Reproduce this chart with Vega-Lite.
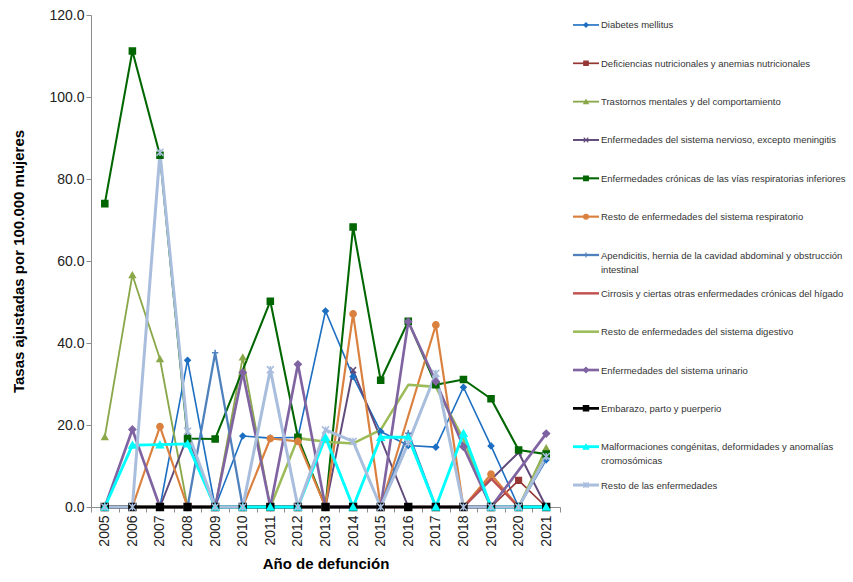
{
  "$schema": "https://vega.github.io/schema/vega-lite/v6.json",
  "background": "white",
  "padding": {"left": 11, "top": 8, "right": 0, "bottom": 0},
  "spacing": 10,
  "resolve": {"scale": {"size": "independent"}},
  "datasets": {
    "tasas": [
      {"anio": "2005", "a_dm": 0, "b_dn": 0, "c_tm": 17.1, "d_sn": 0, "e_cr": 74.0, "f_rr": 0, "g_ap": 0, "h_ci": 0, "i_rd": 0, "j_su": 0, "k_em": 0, "l_mc": 0, "m_re": 0},
      {"anio": "2006", "a_dm": 0, "b_dn": 0, "c_tm": 56.6, "d_sn": 0, "e_cr": 111.2, "f_rr": 0, "g_ap": 0, "h_ci": 0, "i_rd": 0, "j_su": 18.9, "k_em": 0, "l_mc": 15.1, "m_re": 0},
      {"anio": "2007", "a_dm": 0, "b_dn": 0, "c_tm": 36.1, "d_sn": 0, "e_cr": 85.8, "f_rr": 19.6, "g_ap": 0, "h_ci": 0, "i_rd": 0, "j_su": 0, "k_em": 0, "l_mc": 15.2, "m_re": 86.5},
      {"anio": "2008", "a_dm": 35.8, "b_dn": 0, "c_tm": 0, "d_sn": 17.2, "e_cr": 16.7, "f_rr": 0, "g_ap": 0, "h_ci": 0, "i_rd": 0, "j_su": 0, "k_em": 0, "l_mc": 15.4, "m_re": 18.5},
      {"anio": "2009", "a_dm": 0, "b_dn": 0, "c_tm": 0, "d_sn": 0, "e_cr": 16.6, "f_rr": 0, "g_ap": 37.6, "h_ci": 0, "i_rd": 0, "j_su": 0, "k_em": 0, "l_mc": 0, "m_re": 0},
      {"anio": "2010", "a_dm": 17.3, "b_dn": 0, "c_tm": 36.5, "d_sn": 0, "e_cr": null, "f_rr": 0, "g_ap": 0, "h_ci": 0, "i_rd": 0, "j_su": 32.8, "k_em": 0, "l_mc": 0, "m_re": 0},
      {"anio": "2011", "a_dm": 16.8, "b_dn": 0, "c_tm": 0, "d_sn": 0, "e_cr": 50.2, "f_rr": 16.7, "g_ap": 0, "h_ci": 0, "i_rd": 0, "j_su": 0, "k_em": 0, "l_mc": 0, "m_re": 33.5},
      {"anio": "2012", "a_dm": 17.0, "b_dn": 0, "c_tm": 0, "d_sn": 0, "e_cr": 17.0, "f_rr": 16.0, "g_ap": 0, "h_ci": 0, "i_rd": 16.8, "j_su": 34.8, "k_em": 0, "l_mc": 0, "m_re": 0},
      {"anio": "2013", "a_dm": 47.8, "b_dn": 0, "c_tm": 0, "d_sn": 0, "e_cr": 0, "f_rr": 0, "g_ap": 0, "h_ci": 0, "i_rd": 15.9, "j_su": 0, "k_em": 0, "l_mc": 17.0, "m_re": 18.8},
      {"anio": "2014", "a_dm": 31.8, "b_dn": 0, "c_tm": 0, "d_sn": 33.4, "e_cr": 68.3, "f_rr": 47.1, "g_ap": 0, "h_ci": 0, "i_rd": 15.5, "j_su": 0, "k_em": 0, "l_mc": 0, "m_re": 16.0},
      {"anio": "2015", "a_dm": 18.4, "b_dn": 0, "c_tm": 0, "d_sn": null, "e_cr": 30.9, "f_rr": 0, "g_ap": 0, "h_ci": 0, "i_rd": 18.8, "j_su": 0, "k_em": 0, "l_mc": 17.0, "m_re": 0},
      {"anio": "2016", "a_dm": 15.0, "b_dn": 0, "c_tm": 0, "d_sn": 0, "e_cr": 45.3, "f_rr": null, "g_ap": 18.0, "h_ci": 0, "i_rd": 29.8, "j_su": 45.2, "k_em": 0, "l_mc": 17.0, "m_re": 15.6},
      {"anio": "2017", "a_dm": 14.6, "b_dn": 0, "c_tm": 0, "d_sn": 0, "e_cr": 29.8, "f_rr": 44.4, "g_ap": 0, "h_ci": 0, "i_rd": 29.3, "j_su": 30.6, "k_em": 0, "l_mc": 0, "m_re": 32.6},
      {"anio": "2018", "a_dm": 29.2, "b_dn": 0, "c_tm": 0, "d_sn": 0, "e_cr": 31.1, "f_rr": 0, "g_ap": 0, "h_ci": 0, "i_rd": 16.5, "j_su": 14.7, "k_em": 0, "l_mc": 18.0, "m_re": 0},
      {"anio": "2019", "a_dm": 14.9, "b_dn": 0, "c_tm": 0, "d_sn": null, "e_cr": 26.4, "f_rr": 8.0, "g_ap": 0, "h_ci": 7.0, "i_rd": 0, "j_su": 0, "k_em": 0, "l_mc": 0, "m_re": 0},
      {"anio": "2020", "a_dm": 0, "b_dn": 6.5, "c_tm": 0, "d_sn": 13.3, "e_cr": 13.9, "f_rr": 0, "g_ap": 0, "h_ci": 0, "i_rd": 0, "j_su": null, "k_em": 0, "l_mc": 0, "m_re": 0},
      {"anio": "2021", "a_dm": 11.5, "b_dn": 0, "c_tm": 14.4, "d_sn": 0, "e_cr": 12.9, "f_rr": 0, "g_ap": 12.0, "h_ci": 0, "i_rd": 13.5, "j_su": 17.9, "k_em": 0, "l_mc": 0, "m_re": 12.3}
    ],
    "leyenda": [
      {"k": "a_dm", "label": "Diabetes mellitus"},
      {"k": "b_dn", "label": "Deficiencias nutricionales y anemias nutricionales"},
      {"k": "c_tm", "label": "Trastornos mentales y del comportamiento"},
      {"k": "d_sn", "label": "Enfermedades del sistema nervioso, excepto meningitis"},
      {"k": "e_cr", "label": "Enfermedades crónicas de las vías respiratorias inferiores"},
      {"k": "f_rr", "label": "Resto de enfermedades del sistema respiratorio"},
      {"k": "g_ap", "label": "Apendicitis, hernia de la cavidad abdominal y obstrucción\nintestinal"},
      {"k": "h_ci", "label": "Cirrosis y ciertas otras enfermedades crónicas del hígado"},
      {"k": "i_rd", "label": "Resto de enfermedades del sistema digestivo"},
      {"k": "j_su", "label": "Enfermedades del sistema urinario"},
      {"k": "k_em", "label": "Embarazo, parto y puerperio"},
      {"k": "l_mc", "label": "Malformaciones congénitas, deformidades y anomalías\ncromosómicas"},
      {"k": "m_re", "label": "Resto de las enfermedades"}
    ]
  },
  "hconcat": [
    {
      "width": 469,
      "height": 492,
      "data": {"name": "tasas"},
      "transform": [
        {"fold": ["a_dm", "b_dn", "c_tm", "d_sn", "e_cr", "f_rr", "g_ap", "h_ci", "i_rd", "j_su", "k_em", "l_mc", "m_re"], "as": ["k", "tasa"]},
        {"filter": {"field": "tasa", "valid": true}}
      ],
      "encoding": {
        "x": {
          "field": "anio", "type": "ordinal", "bandPosition": 0.5,
          "scale": {"type": "band", "paddingInner": 0, "paddingOuter": 0},
          "axis": {
            "title": "Año de defunción", "titleFontSize": 15, "titleFontWeight": "bold", "titlePadding": 10,
            "labelAngle": 270, "labelFontSize": 14, "labelPadding": 3, "tickBand": "extent", "tickSize": 5,
            "domainColor": "#8c8c8c", "tickColor": "#8c8c8c", "grid": false
          }
        },
        "y": {
          "field": "tasa", "type": "quantitative",
          "scale": {"domain": [0, 120], "nice": false},
          "axis": {
            "title": "Tasas ajustadas por 100.000 mujeres", "titleFontSize": 15, "titleFontWeight": "bold", "titlePadding": 22,
            "values": [0, 20, 40, 60, 80, 100, 120], "format": ".1f", "labelFontSize": 14, "labelPadding": 2,
            "tickSize": 5, "domainColor": "#8c8c8c", "tickColor": "#8c8c8c", "grid": false
          }
        }
      },
      "layer": [
        {
          "mark": {"type": "line", "strokeJoin": "round"},
          "encoding": {
            "color": {"field": "k", "type": "nominal", "legend": null,
              "scale": {"domain": ["a_dm", "b_dn", "c_tm", "d_sn", "e_cr", "f_rr", "g_ap", "h_ci", "i_rd", "j_su", "k_em", "l_mc", "m_re"],
                "range": ["#1C6FC2", "#953735", "#8AA84A", "#604A7B", "#006600", "#DA8140", "#4F81BD", "#C0504D", "#9BBB59", "#8064A2", "#000000", "#00FFFF", "#A9BDDD"]}},
            "strokeWidth": {"field": "k", "type": "nominal", "legend": null,
              "scale": {"domain": ["a_dm", "b_dn", "c_tm", "d_sn", "e_cr", "f_rr", "g_ap", "h_ci", "i_rd", "j_su", "k_em", "l_mc", "m_re"],
                "range": [1.6, 3, 3, 3, 3.5, 3, 3, 3, 3, 3, 2.5, 3, 3.5]}}
          }
        },
        {
          "transform": [{"filter": {"not": {"field": "k", "oneOf": ["h_ci", "i_rd"]}}}],
          "mark": {"type": "point", "filled": true, "opacity": 1, "strokeWidth": 1.5},
          "encoding": {
            "color": {"field": "k", "type": "nominal", "legend": null},
            "stroke": {"field": "k", "type": "nominal", "legend": null,
              "scale": {"domain": ["a_dm", "b_dn", "c_tm", "d_sn", "e_cr", "f_rr", "g_ap", "h_ci", "i_rd", "j_su", "k_em", "l_mc", "m_re"],
                "range": ["#1C6FC2", "#953735", "#8AA84A", "#604A7B", "#006600", "#DA8140", "#4F81BD", "#C0504D", "#9BBB59", "#8064A2", "#000000", "#00FFFF", "#A9BDDD"]}},
            "shape": {"field": "k", "type": "nominal", "legend": null,
              "scale": {"domain": ["a_dm", "b_dn", "c_tm", "d_sn", "e_cr", "f_rr", "g_ap", "h_ci", "i_rd", "j_su", "k_em", "l_mc", "m_re"],
                "range": ["diamond", "square", "triangle-up", "M-1,-1L1,1M-1,1L1,-1", "square", "circle", "M-1,0L1,0M0,-1L0,1", "circle", "circle", "diamond", "square", "triangle-up", "M-1,-1L1,1M-1,1L1,-1M0,-1L0,1"]}},
            "size": {"field": "k", "type": "nominal", "legend": null,
              "scale": {"domain": ["a_dm", "b_dn", "c_tm", "d_sn", "e_cr", "f_rr", "g_ap", "h_ci", "i_rd", "j_su", "k_em", "l_mc", "m_re"],
                "range": [30, 50, 50, 40, 64, 50, 50, 0, 0, 45, 50, 60, 50]}}
          }
        }
      ]
    },
    {
      "width": 280,
      "height": 480,
      "data": {"name": "leyenda"},
      "encoding": {
        "y": {"field": "k", "type": "ordinal", "sort": null, "scale": {"type": "point", "padding": 0.26}, "axis": null}
      },
      "layer": [
        {
          "mark": {"type": "rule"},
          "encoding": {
            "x": {"datum": 0, "type": "quantitative", "scale": {"domain": [0, 280]}, "axis": null},
            "x2": {"datum": 26},
            "color": {"field": "k", "type": "nominal", "legend": null},
            "strokeWidth": {"field": "k", "type": "nominal", "legend": null}
          }
        },
        {
          "transform": [{"filter": {"not": {"field": "k", "oneOf": ["h_ci", "i_rd"]}}}],
          "mark": {"type": "point", "filled": true, "opacity": 1, "strokeWidth": 1.2},
          "encoding": {
            "x": {"datum": 13, "type": "quantitative"},
            "color": {"field": "k", "type": "nominal", "legend": null},
            "stroke": {"field": "k", "type": "nominal", "legend": null},
            "shape": {"field": "k", "type": "nominal", "legend": null},
            "size": {"field": "k", "type": "nominal", "legend": null,
              "scale": {"domain": ["a_dm", "b_dn", "c_tm", "d_sn", "e_cr", "f_rr", "g_ap", "h_ci", "i_rd", "j_su", "k_em", "l_mc", "m_re"],
                "range": [18, 30, 30, 30, 36, 30, 36, 0, 0, 26, 30, 36, 36]}}
          }
        },
        {
          "mark": {"type": "text", "align": "left", "baseline": "alphabetic", "dy": 3.5, "lineBreak": "\n", "lineHeight": 14, "fontSize": 9.5, "color": "#333333"},
          "encoding": {
            "x": {"datum": 28, "type": "quantitative"},
            "text": {"field": "label"}
          }
        }
      ]
    }
  ],
  "config": {
    "font": "Liberation Sans",
    "view": {"stroke": null},
    "axis": {"labelColor": "#222222", "titleColor": "#000000"}
  }
}
